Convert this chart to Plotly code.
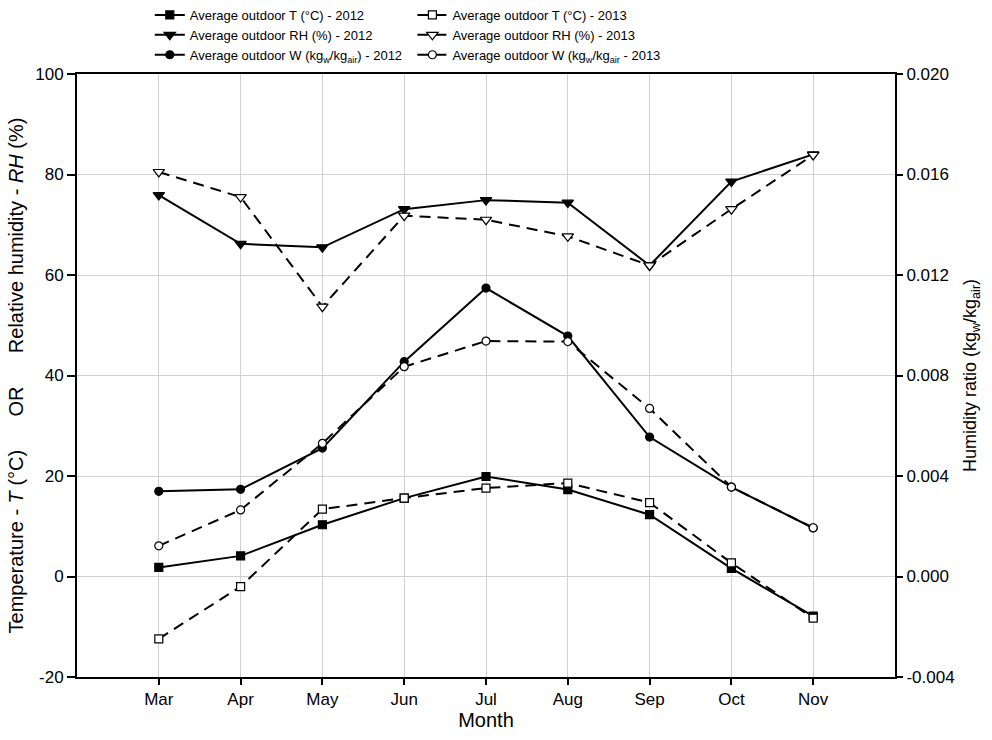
import plotly.graph_objects as go

months = ["Mar", "Apr", "May", "Jun", "Jul", "Aug", "Sep", "Oct", "Nov"]

t_2012 = [1.8, 4.1, 10.3, 15.6, 19.9, 17.3, 12.3, 1.6, -7.9]
t_2013 = [-12.4, -2.0, 13.4, 15.6, 17.6, 18.6, 14.7, 2.7, -8.3]
rh_2012 = [75.9, 66.2, 65.5, 73.1, 74.9, 74.4, 61.9, 78.6, 84.0]
rh_2013 = [80.5, 75.5, 53.7, 71.8, 71.0, 67.7, 61.9, 73.1, 83.9]
w_2012 = [0.00339, 0.00347, 0.00511, 0.00855, 0.01148, 0.00957, 0.00555, 0.00356, 0.00193]
w_2013 = [0.00122, 0.00265, 0.00530, 0.00835, 0.00937, 0.00935, 0.00669, 0.00356, 0.00194]

left_ticks = [-20, 0, 20, 40, 60, 80, 100]
left_labels = ["-20", "0", "20", "40", "60", "80", "100"]
right_ticks = [-0.004, 0.0, 0.004, 0.008, 0.012, 0.016, 0.020]
right_labels = ["-0.004", "0.000", "0.004", "0.008", "0.012", "0.016", "0.020"]

FONT = "Liberation Sans, Arial, sans-serif"
DASH = "11px,7px"
SP = "\u00a0" * 6

W, H = 992, 740
M_T, M_B = 0, 63
PLOT_TOP = 74
y_dom_top = (H - M_B - PLOT_TOP) / (H - M_T - M_B)

fig = go.Figure()

def add(y, name, symbol, filled, dashed, yaxis="y", legend="legend"):
    fig.add_trace(go.Scatter(
        x=months, y=y, name=name, mode="lines+markers", yaxis=yaxis, legend=legend,
        line=dict(color="black", width=2, dash=DASH if dashed else "solid"),
        marker=dict(symbol=symbol, size=10 if "triangle" in symbol else 8,
                    color="black" if filled else "white",
                    line=dict(color="black", width=1.2)),
    ))

add(t_2012, "Average outdoor T (°C) - 2012", "square", True, False, legend="legend")
add(rh_2012, "Average outdoor RH (%) - 2012", "triangle-down", True, False, legend="legend")
add(w_2012, "Average outdoor W (kg<sub>w</sub>/kg<sub>air</sub>) - 2012", "circle", True, False, yaxis="y2", legend="legend")
add(t_2013, "Average outdoor T (°C) - 2013", "square", False, True, legend="legend2")
add(rh_2013, "Average outdoor RH (%) - 2013", "triangle-down", False, True, legend="legend2")
add(w_2013, "Average outdoor W (kg<sub>w</sub>/kg<sub>air</sub> - 2013", "circle", False, True, yaxis="y2", legend="legend2")

fig.update_layout(
    width=W, height=H,
    margin=dict(l=77, r=97, t=M_T, b=M_B),
    paper_bgcolor="white", plot_bgcolor="white",
    font=dict(family=FONT, size=17, color="black"),
    xaxis=dict(
        type="category", range=[-1, 9], showgrid=True, gridcolor="#d0d0d0", gridwidth=1,
        showline=True, linecolor="black", linewidth=2, mirror=True, automargin=False,
        ticks="outside", ticklen=6, tickcolor="black", tickwidth=1.5,
        title=dict(text="Month", font=dict(size=20), standoff=2),
        tickfont=dict(size=17),
    ),
    yaxis=dict(
        domain=[0, y_dom_top], automargin=False,
        range=[-20, 100], tickvals=left_ticks, ticktext=left_labels,
        showgrid=True, gridcolor="#d0d0d0", gridwidth=1, zeroline=False,
        showline=True, linecolor="black", linewidth=2,
        ticks="outside", ticklen=8, tickcolor="black", tickwidth=1.5,
        title=dict(text="Temperature - <i>T</i> (°C)" + SP + "OR" + SP + "Relative humidity - <i>RH</i> (%)",
                   font=dict(size=20), standoff=6),
        tickfont=dict(size=17),
    ),
    yaxis2=dict(
        overlaying="y", side="right", automargin=False,
        range=[-0.004, 0.020], tickvals=right_ticks, ticktext=right_labels,
        showgrid=False, zeroline=False,
        showline=True, linecolor="black", linewidth=2,
        ticks="outside", ticklen=6, tickcolor="black", tickwidth=1.5,
        title=dict(text="Humidity ratio (kg<sub>w</sub>/kg<sub>air</sub>)",
                   font=dict(size=18), standoff=10),
        tickfont=dict(size=17),
    ),
    legend=dict(x=0.089, y=1.0, xanchor="left", yanchor="top",
                font=dict(size=13), bgcolor="rgba(0,0,0,0)", tracegroupgap=0,
                itemwidth=30),
    legend2=dict(x=0.41, y=1.0, xanchor="left", yanchor="top",
                 font=dict(size=13), bgcolor="rgba(0,0,0,0)", tracegroupgap=0,
                 itemwidth=30),
    showlegend=True,
)

fig.write_html("out.html")
